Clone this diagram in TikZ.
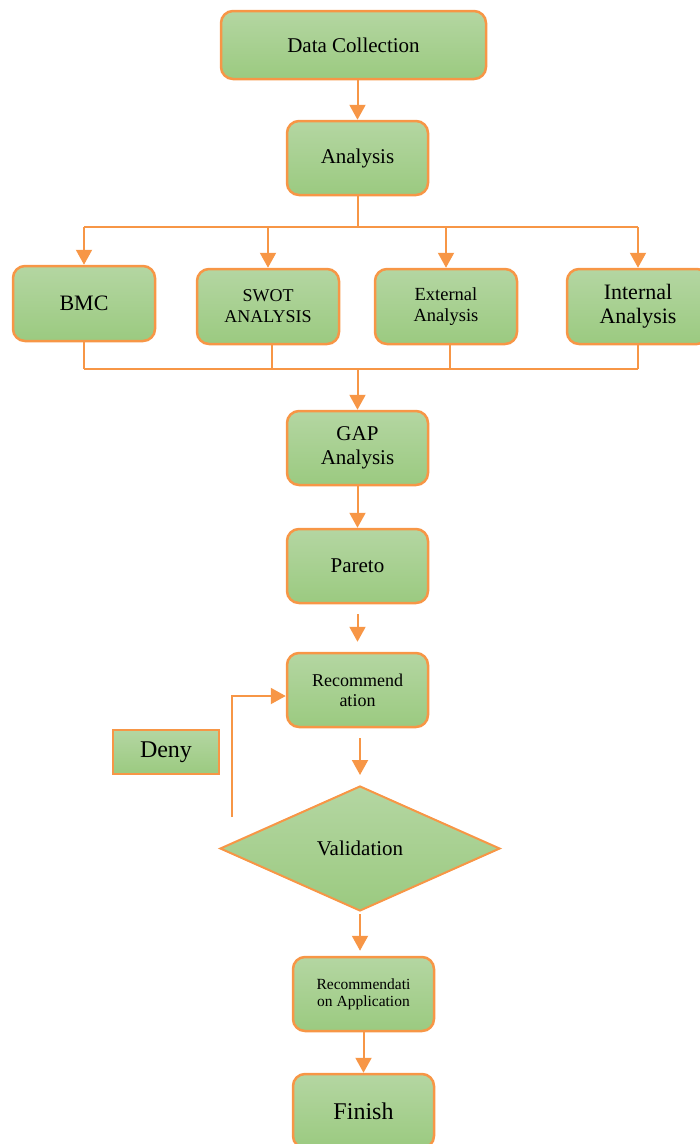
\documentclass[tikz,border=0pt]{standalone}
\usepackage{fontspec}
\setmainfont{Liberation Serif}
\usetikzlibrary{arrows.meta, positioning, shapes.geometric}

\definecolor{lineorange}{RGB}{247,150,70}
\definecolor{greentop}{RGB}{180,214,162}
\definecolor{greenbot}{RGB}{155,202,128}

\begin{document}
\begin{tikzpicture}[x=1pt,y=-1pt,>={Triangle[width=16pt,length=15pt]},
        arr/.style={->,draw=lineorange,line width=2pt},
        conn/.style={draw=lineorange,line width=2pt},
        box/.style={rectangle,rounded corners=12pt,draw=lineorange,line width=2.5pt,
                    top color=greentop,bottom color=greenbot,align=center,inner sep=1pt,
                    minimum width=141pt,minimum height=74pt},
        denybox/.style={rectangle,draw=lineorange,line width=2pt,top color=greentop,
                    bottom color=greenbot,minimum width=106pt,minimum height=44pt},
        check/.style={diamond,draw=lineorange,line width=2pt,top color=greentop,
                    bottom color=greenbot,inner sep=0pt,minimum width=280pt,minimum height=125pt}]

        \useasboundingbox (0,0) rectangle (700,1144);

        \node[box,minimum width=265pt,minimum height=68pt,font=\fontsize{21}{24}\selectfont] (dc) at (353.5,45) {Data Collection};
        \node[box,font=\fontsize{21}{24}\selectfont] (an) at (357.5,158) {Analysis};

        \node[box,minimum width=142pt,minimum height=75pt,font=\fontsize{22}{25}\selectfont] (bmc) at (84,303.5) {BMC};
        \node[box,minimum width=142pt,minimum height=75pt,font=\fontsize{18}{21}\selectfont] (swot) at (268,306.5) {SWOT\\ANALYSIS};
        \node[box,minimum width=142pt,minimum height=75pt,font=\fontsize{18.5}{21}\selectfont] (ext) at (446,306.5) {External\\Analysis};
        \node[box,minimum width=142pt,minimum height=75pt,font=\fontsize{22}{24}\selectfont] (int) at (638,306.5) {Internal\\Analysis};

        \node[box,font=\fontsize{21}{24}\selectfont] (gap) at (357.5,448) {GAP\\Analysis};
        \node[box,font=\fontsize{21}{24}\selectfont] (par) at (357.5,566) {Pareto};
        \node[box,font=\fontsize{18}{20}\selectfont] (rec) at (357.5,690) {Recommend\\ation};
        \node[denybox,font=\fontsize{24}{26}\selectfont] (deny) at (166,752) {Deny};
        \node[check,font=\fontsize{21}{24}\selectfont] (val) at (360,848.5) {Validation};
        \node[box,font=\fontsize{15.5}{17}\selectfont] (app) at (363.5,994) {Recommendati\\on Application};
        \node[box,font=\fontsize{24}{26}\selectfont] (fin) at (363.5,1111) {Finish};

        % split into the four analyses
        \coordinate (split) at (357.5,227);
        \coordinate (join) at (357.5,369);
        \draw[arr] (dc.south -| an.north) -- (an.north);
        \draw[conn] (an.south) -- (split);
        \draw[conn] (bmc.north |- split) -- (int.north |- split);
        \draw[arr] (bmc.north |- split) -- (bmc.north);
        \draw[arr] (swot.north |- split) -- (swot.north);
        \draw[arr] (ext.north |- split) -- (ext.north);
        \draw[arr] (int.north |- split) -- (int.north);

        % back together
        \draw[conn] (bmc.south) -- (bmc.south |- join);
        \draw[conn] ([xshift=4pt]swot.south) -- ([xshift=4pt]swot.south |- join);
        \draw[conn] ([xshift=4pt]ext.south) -- ([xshift=4pt]ext.south |- join);
        \draw[conn] (int.south) -- (int.south |- join);
        \draw[conn] (bmc.south |- join) -- (int.south |- join);
        \draw[arr] (join) -- (gap.north);

        \draw[arr] (gap) -- (par);
        \draw[arr,shorten <=10pt,shorten >=10pt] (par) -- (rec);
        \draw[arr,shorten <=10pt,shorten >=10pt] (rec.south -| val) -- (val.north);
        \draw[arr,shorten <=2pt,shorten >=5pt] (val.south) -- (app.north -| val);
        \draw[arr] (app) -- (fin);

        % loop back when denied
        \coordinate (back) at (232,817);
        \draw[arr] (back) |- ([yshift=-6pt]rec.west);

\end{tikzpicture}
\end{document}
